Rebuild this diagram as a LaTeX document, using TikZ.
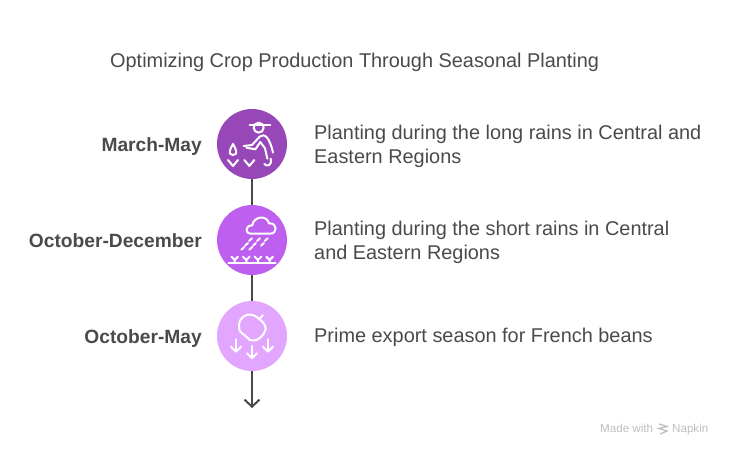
\documentclass[tikz,border=0pt]{standalone}
\usepackage{fontspec}
\setmainfont{Liberation Sans}
\usetikzlibrary{arrows.meta, positioning}
\definecolor{textgrey}{RGB}{74, 74, 74}
\definecolor{markgrey}{RGB}{190, 190, 190}
\definecolor{stagedark}{RGB}{151, 71, 184}
\definecolor{stagemid}{RGB}{191, 95, 239}
\definecolor{stagelight}{RGB}{226, 166, 255}
\tikzset{
  stage/.style={circle, minimum size=70pt, inner sep=0pt},
  period/.style={anchor=base east, text=textgrey, font=\fontsize{19.2}{24}\selectfont\bfseries},
  detail/.style={anchor=west, text=textgrey, align=left, font=\fontsize{19.9}{24}\selectfont},
  link/.style={draw=textgrey, line width=2pt},
  icon/.style={draw=white, line width=2pt, line cap=round, line join=round},
}

\begin{document}
\begin{tikzpicture}[x=1pt, y=-1pt]
  \useasboundingbox (0, 0) rectangle (732, 456);
  \node[anchor=base west, text=textgrey, inner sep=0pt, font=\fontsize{19.9}{24}\selectfont] (title) at (110, 67) {Optimizing Crop Production Through Seasonal Planting};

  \node[stage, fill=stagedark] (march) at (252, 144) {};
  \node[stage, fill=stagemid] (october) at (252, 240) {};
  \node[stage, fill=stagelight] (export) at (252, 336) {};
  \coordinate (end) at (252, 408);

  \draw[link] (march) -- (october);
  \draw[link] (october) -- (export);
  \draw[link, -{Straight Barb[length=7pt, width=15pt]}] (export) -- (end);

  \node[period, inner sep=0pt] (marchlabel) at (202, 151) {March-May};
  \node[period, inner sep=0pt] (octoberlabel) at (202, 247) {October-December};
  \node[period, inner sep=0pt] (exportlabel) at (202, 343) {October-May};

  \node[detail, inner sep=0pt] (marchtext) at (314, 146) {Planting during the long rains in Central and\\Eastern Regions};
  \node[detail, inner sep=0pt] (octobertext) at (314, 242) {Planting during the short rains in Central\\and Eastern Regions};
  \node[detail, inner sep=0pt] (exporttext) at (314, 337) {Prime export season for French beans};

  % farmer
  \begin{scope}[shift={(207, 100)}, x=0.3333pt, y=-0.3333pt, icon]
    \draw (155, 83) circle (15);
    \draw (128, 75) -- (190, 75);
    \draw (110, 138) -- (135, 135) -- (158, 110) .. controls (172, 98) and (188, 112) .. (198, 158);
    \draw (118, 143) -- (145, 148) -- (160, 126) -- (174, 145) -- (181, 176);
    \draw (172, 192) .. controls (180, 202) and (196, 196) .. (191, 176);
    \draw (78, 132) .. controls (70, 146) and (60, 164) .. (78, 165) .. controls (96, 164) and (86, 146) .. (78, 132);
    \draw (63, 180) -- (78, 198) -- (93, 180);
    \draw (112, 180) -- (127, 198) -- (142, 180);
  \end{scope}

  % rain cloud
  \begin{scope}[shift={(207, 196)}, x=0.3333pt, y=-0.3333pt, icon]
    \draw (133, 113) .. controls (112, 113) and (114, 88) .. (136, 88) .. controls (140, 60) and (180, 56) .. (186, 82) .. controls (212, 80) and (212, 113) .. (190, 113) -- cycle;
    \foreach \x/\y in {135/127, 159/127, 182/127, 123/141, 147/141, 171/141, 112/153, 136/153}
      \draw (\x, \y) -- ++(-9, 8);
    \draw (64, 200) -- (206, 200);
    \foreach \x in {83, 118, 153, 188} {
      \draw (\x, 198) -- (\x, 192) -- ++(-10, -10);
      \draw (\x, 192) -- ++(10, -10);
    }
  \end{scope}

  % fruit with falling arrows
  \begin{scope}[shift={(207, 292)}, x=0.3333pt, y=-0.3333pt, icon]
    \draw (150, 76) .. controls (130, 58) and (92, 70) .. (96, 108) .. controls (98, 125) and (112, 126) .. (120, 136) .. controls (135, 158) and (168, 140) .. (176, 112) .. controls (178, 98) and (162, 84) .. (150, 76) -- cycle;
    \draw (156, 82) -- (168, 70);
    \foreach \x/\y in {87/142, 135/162, 183/142} {
      \draw (\x, \y) -- (\x, \y+35);
      \draw (\x-15, \y+22) -- (\x, \y+37) -- (\x+15, \y+22);
    }
  \end{scope}

  % footer mark
  \node[anchor=base west, inner sep=0pt, text=markgrey, font=\fontsize{11.6}{13}\selectfont] (madewith) at (600, 432) {Made with};
  \node[anchor=base west, inner sep=0pt, text=markgrey, font=\fontsize{11.6}{13}\selectfont] (napkin) at (672, 432) {Napkin};
  \draw[markgrey, line width=1.3pt] (659, 424) -- (667, 426.5) -- (659, 428.5) -- (667, 431) -- (660, 434);
\end{tikzpicture}
\end{document}
